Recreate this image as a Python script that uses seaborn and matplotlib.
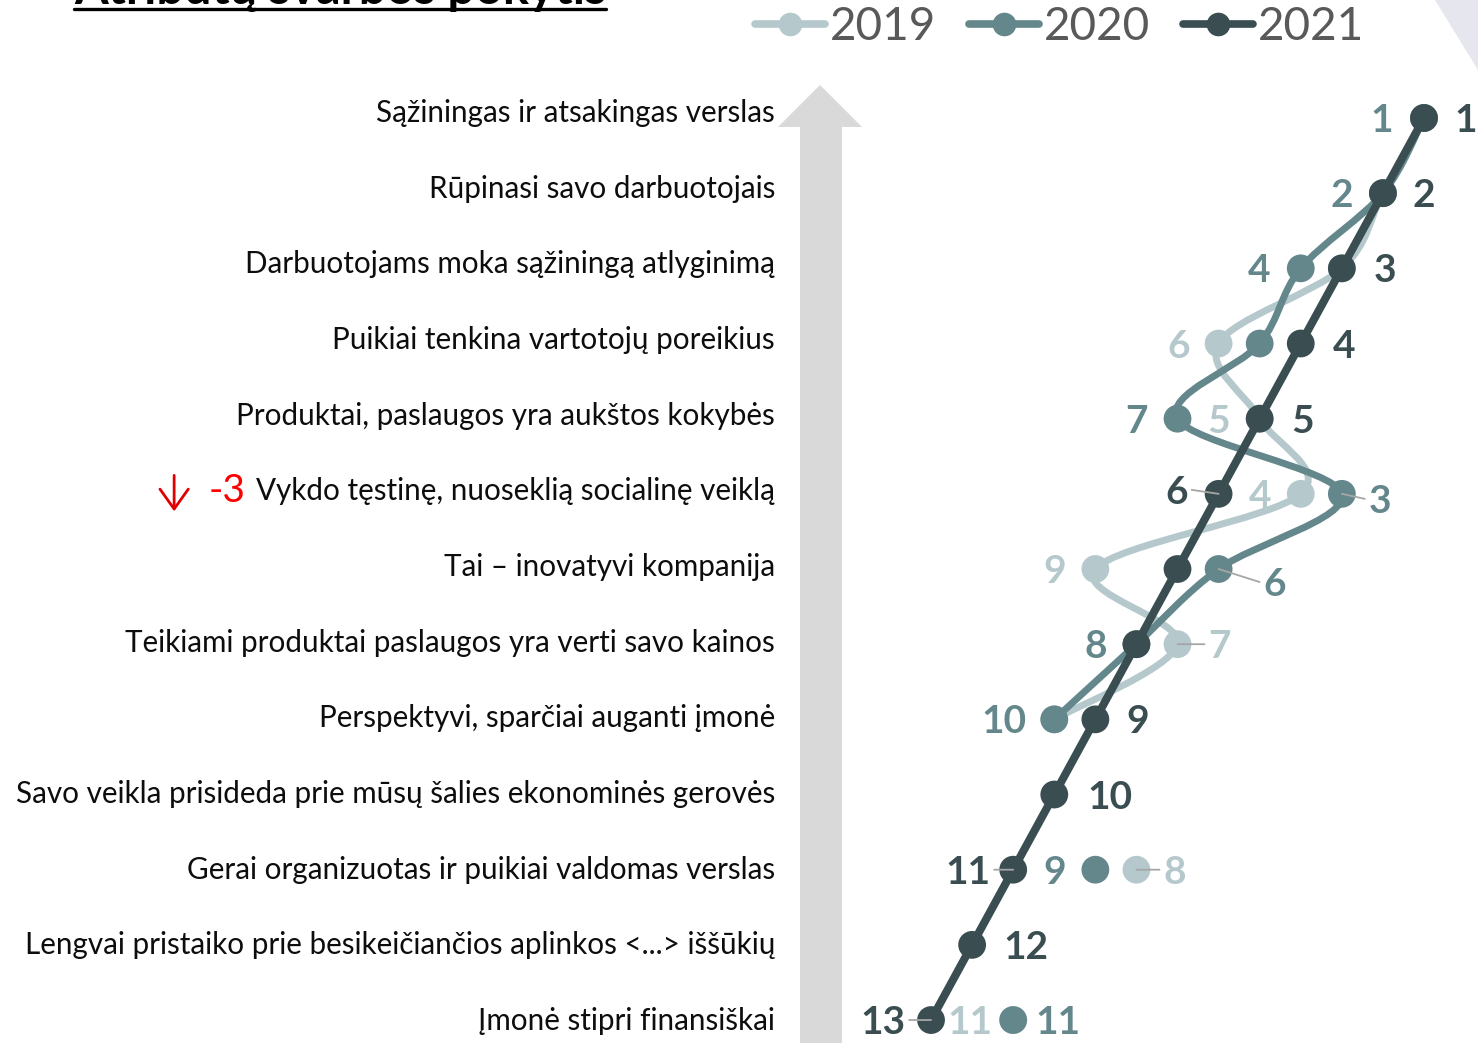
import numpy as np
import pandas as pd
import seaborn as sns
import matplotlib.pyplot as plt
from matplotlib.path import Path
from matplotlib.patches import PathPatch, Polygon
from matplotlib.lines import Line2D
from matplotlib.transforms import Affine2D, blended_transform_factory

# ---------------------------------------------------------------- data
categories = [
    "Sąžiningas ir atsakingas verslas",
    "Rūpinasi savo darbuotojais",
    "Darbuotojams moka sąžiningą atlyginimą",
    "Puikiai tenkina vartotojų poreikius",
    "Produktai, paslaugos yra aukštos kokybės",
    "Vykdo tęstinę, nuoseklią socialinę veiklą",
    "Tai – inovatyvi kompanija",
    "Teikiami produktai paslaugos yra verti savo kainos",
    "Perspektyvi, sparčiai auganti įmonė",
    "Savo veikla prisideda prie mūsų šalies ekonominės gerovės",
    "Gerai organizuotas ir puikiai valdomas verslas",
    "Lengvai pristaiko prie besikeičiančios aplinkos <...> iššūkių",
    "Įmonė stipri finansiškai",
]
years = ["2019", "2020", "2021"]
rank_2019 = [1, 2, 3, 6, 5, 4, 9, 7, 10, np.nan, 8, np.nan, 11]
rank_2020 = [1, 2, 4, 5, 7, 3, 6, 8, 10, np.nan, 9, np.nan, 11]
rank_2021 = [1, 2, 3, 4, 5, 6, 7, 8, 9, 10, 11, 12, 13]
change_row = 5          # "Vykdo tęstinę ..." row
change_text = "-3"

# ---------------------------------------------------------------- style
W, H = 1478, 1043
colors = {"2019": "#b5c9cd", "2020": "#64878c", "2021": "#3a4d51"}
line_w = {"2019": 5.0, "2020": 5.0, "2021": 5.8}

sns.set_theme(style="white")
plt.rcParams["font.family"] = ["Lato", "DejaVu Sans"]

df = pd.DataFrame({
    "category": categories * 3,
    "row": list(range(1, 14)) * 3,
    "year": np.repeat(years, 13),
    "rank": rank_2019 + rank_2020 + rank_2021,
})

fig = plt.figure(figsize=(W / 100, H / 100), dpi=100)
ax = fig.add_axes([0, 0, 1, 1])
ax.axis("off")

# rank -> horizontal pixel, row -> vertical pixel
X1, DX = 1424.0, 41.08
Y1, DY = 118.0, 75.17
ax.set_xlim((X1 + DX) / DX, (X1 + DX - W) / DX)
ax.set_ylim(1 + (H - Y1) / DY, 1 - Y1 / DY)

px = Affine2D().scale(1 / W, -1 / H).translate(0, 1) + fig.transFigure


def smooth_path(xs, ys):
    pts = np.column_stack([xs, ys])
    n = len(pts)
    verts, codes = [pts[0]], [Path.MOVETO]
    for i in range(n - 1):
        p0 = pts[i - 1] if i > 0 else pts[i]
        p1, p2 = pts[i], pts[i + 1]
        p3 = pts[i + 2] if i + 2 < n else pts[i + 1]
        verts += [p1 + (p2 - p0) / 6, p2 - (p3 - p1) / 6, p2]
        codes += [Path.CURVE4] * 3
    return Path(verts, codes)


# background arrow and corner shape
fig.add_artist(Polygon([(820, 85), (862, 127), (842, 127), (842, H), (800, H),
                        (800, 127), (778, 127)], closed=True, transform=px,
                       facecolor="#d9d9d9", edgecolor="none", zorder=0))
fig.add_artist(Polygon([(1435, 0), (W, 0), (W, 70)], closed=True, transform=px,
                       facecolor="#e6e7ee", edgecolor="none", zorder=0))

# series: line then markers, in year order
z = 2
for yr in years:
    sub = df[df.year == yr]
    if yr == "2021":
        sns.lineplot(data=sub, x="rank", y="row", sort=False, estimator=None,
                     color=colors[yr], lw=line_w[yr], ax=ax, zorder=z)
    else:
        valid = sub["rank"].notna().values
        grp = np.cumsum(~valid)
        for g in np.unique(grp[valid]):
            run = sub[valid & (grp == g)]
            if len(run) > 1:
                ax.add_patch(PathPatch(smooth_path(run["rank"].values, run["row"].values),
                                       facecolor="none", edgecolor=colors[yr],
                                       lw=line_w[yr], capstyle="round", zorder=z))
    sns.scatterplot(data=sub.dropna(), x="rank", y="row", color=colors[yr], s=400,
                    edgecolor="none", linewidth=0, ax=ax, zorder=z + 1, legend=False)
    z += 2

# value labels: (year, row index, dx px, dy px, leader)
placements = [
    ("2021", 0, 30, 0, False), ("2021", 1, 30, 0, False), ("2021", 2, 32, 0, False),
    ("2021", 3, 32, 0, False), ("2021", 4, 32, 0, False), ("2021", 5, -31, -4, True),
    ("2021", 8, 31, 0, False), ("2021", 9, 33, 0, False), ("2021", 10, -23, 0, True),
    ("2021", 11, 31, 0, False), ("2021", 12, -26, 0, True),
    ("2020", 0, -31, 0, False), ("2020", 1, -30, 0, False), ("2020", 2, -30, 0, False),
    ("2020", 4, -30, 0, False), ("2020", 5, 27, 5, True), ("2020", 6, 45, 13, True),
    ("2020", 7, -29, 0, False), ("2020", 8, -28, 0, False), ("2020", 10, -29, 0, False),
    ("2020", 12, 22, 0, False),
    ("2019", 3, -29, 0, False), ("2019", 4, -30, 0, False), ("2019", 5, -29, 0, False),
    ("2019", 6, -29, 0, False), ("2019", 7, 31, 0, True), ("2019", 10, 27, 0, True),
    ("2019", 12, -21, 0, False),
]
ranks = {"2019": rank_2019, "2020": rank_2020, "2021": rank_2021}
for yr, i, dx, dy, leader in placements:
    r = ranks[yr][i]
    x, y = r, i + 1
    ax.annotate(f"{int(r)}", xy=(x, y), xytext=(dx * 0.72, -(dy + 14) * 0.72),
                textcoords="offset points", ha="left" if dx > 0 else "right",
                va="baseline", fontsize=28, fontweight="bold", color=colors[yr],
                zorder=20)
    if leader:
        sx = 1 if dx > 0 else -1
        ax.annotate("", xy=(x, y), xytext=((dx - sx * 4) * 0.72, -dy * 0.72),
                    textcoords="offset points",
                    arrowprops=dict(arrowstyle="-", color="#a6a6a6", lw=1.3,
                                    shrinkA=0, shrinkB=0), zorder=21)

# category labels
tr = blended_transform_factory(fig.transFigure, ax.transData)
label_artists = []
for i, c in enumerate(categories):
    t = ax.text(775 / W, i + 1 + (0.5 * i - 5) / DY, c, transform=tr, ha="right",
                va="center", fontsize=21.3, color="#0d0d0d")
    label_artists.append(t)

# change marker for one row
chg = ax.annotate(change_text, xy=(0, 0.5), xycoords=label_artists[change_row],
                  xytext=(-8, 0), textcoords="offset points", ha="right", va="center",
                  fontsize=28, color="#ff0000")

# legend
handles = [Line2D([0], [0], color=colors[y], lw=5.5, marker="o", markersize=16,
                  solid_capstyle="round") for y in years]
ax.legend(handles, years, loc="center left", bbox_to_anchor=(755 / W, 1 - 27 / H),
          bbox_transform=fig.transFigure, ncol=3, frameon=False, fontsize=33,
          handlelength=1.53, handletextpad=0.1, columnspacing=0.72,
          borderpad=0, borderaxespad=0, labelcolor="#595959")

# title, mostly above the top edge
title = fig.text(74 / W, 1 - 4 / H, "Atributų svarbos pokytis", ha="left", va="baseline",
                 fontsize=35, fontweight="bold", color="black")
fig.canvas.draw()
bb = title.get_window_extent()
fig.add_artist(Line2D([bb.x0 / W, bb.x1 / W], [1 - 9 / H, 1 - 9 / H],
                      transform=fig.transFigure, color="black", lw=2.4))

# red down arrow left of the change value
cb = chg.get_window_extent()
arr_x = cb.x0 - 34
yc = (cb.y0 + cb.y1) / 2 - 2
ax.annotate("", xy=(arr_x, yc - 18), xycoords="figure pixels",
            xytext=(arr_x, yc + 18), textcoords="figure pixels",
            arrowprops=dict(arrowstyle="->,head_length=0.42,head_width=0.3",
                            color="#e00000", lw=2.0,
                            mutation_scale=34, shrinkA=0, shrinkB=0))

fig.savefig("out.png", dpi=100)
